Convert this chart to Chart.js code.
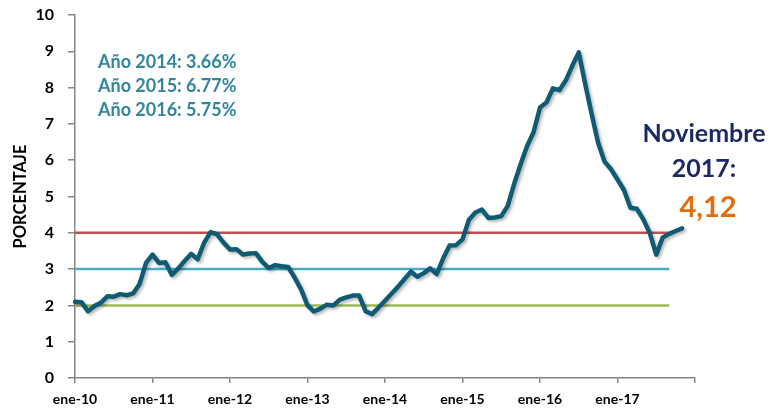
<!DOCTYPE html>
<html><head><meta charset="utf-8">
<script src="https://cdn.jsdelivr.net/npm/chart.js@4/dist/chart.umd.min.js"></script>
<style>html,body{margin:0;padding:0;background:#fff}#wrap{width:770px;height:409px;position:relative}</style>
</head><body><div id="wrap"><canvas id="c"></canvas></div>
<script>
// ---- DATA ----
const monthNames = ['ene','feb','mar','abr','may','jun','jul','ago','sep','oct','nov','dic'];
const yearLabels = ['10','11','12','13','14','15','16','17','18'];
const inflation2010 = [2.10, 2.09, 1.84, 1.98, 2.07, 2.25, 2.24, 2.31, 2.28, 2.33, 2.59, 3.17];
const inflation2011 = [3.40, 3.17, 3.19, 2.84, 3.02, 3.23, 3.42, 3.27, 3.73, 4.02, 3.96, 3.73];
const inflation2012 = [3.54, 3.55, 3.40, 3.43, 3.44, 3.20, 3.03, 3.11, 3.08, 3.06, 2.77, 2.44];
const inflation2013 = [2.00, 1.83, 1.91, 2.02, 2.00, 2.16, 2.22, 2.27, 2.27, 1.84, 1.76, 1.94];
const inflation2014 = [2.13, 2.32, 2.51, 2.72, 2.93, 2.79, 2.89, 3.02, 2.86, 3.29, 3.65, 3.66];
const inflation2015 = [3.82, 4.36, 4.56, 4.64, 4.41, 4.42, 4.46, 4.74, 5.35, 5.89, 6.39, 6.77];
const inflation2016 = [7.45, 7.59, 7.98, 7.93, 8.20, 8.60, 8.97, 8.10, 7.27, 6.48, 5.96, 5.75];
const inflation2017 = [5.47, 5.18, 4.69, 4.66, 4.37, 3.99, 3.40, 3.87, 3.97, 4.05, 4.12];
const rangoTecho = 4;   // upper band
const metaCentral = 3;  // target
const rangoPiso = 2;    // lower band
const refLineMonths = 93; // reference lines run Jan-2010 .. Sep-2017
const yTickLabels = ['0','1','2','3','4','5','6','7','8','9','10'];
const annotationLines = ['Año 2014: 3.66%', 'Año 2015: 6.77%', 'Año 2016: 5.75%'];
const lastLabel1 = 'Noviembre';
const lastLabel2 = '2017:';
const lastValue = '4,12';

// ---- BUILD ----
const labels = [];
yearLabels.forEach((y, yi) => {
  monthNames.forEach((m, mi) => {
    if (yi < yearLabels.length - 1 || mi === 0) labels.push(m + '-' + y);
  });
});
const inflation = [].concat(inflation2010, inflation2011, inflation2012, inflation2013,
  inflation2014, inflation2015, inflation2016, inflation2017);
const techo = labels.map((_, i) => i < refLineMonths ? rangoTecho : null);
const meta = labels.map((_, i) => i < refLineMonths ? metaCentral : null);
const piso = labels.map((_, i) => i < refLineMonths ? rangoPiso : null);

const FONT = 'Lato, "Open Sans", sans-serif';
const AXIS = '#868686';

const shadowPlugin = {
  id: 'shadow',
  beforeDatasetDraw(chart, args) {
    if (args.index === 0) {
      const ctx = chart.ctx;
      ctx.save();
      ctx.shadowColor = 'rgba(0,0,0,0.28)';
      ctx.shadowBlur = 3;
      ctx.shadowOffsetX = 2;
      ctx.shadowOffsetY = 2;
    }
  },
  afterDatasetDraw(chart, args) {
    if (args.index === 0) chart.ctx.restore();
  }
};

const textPlugin = {
  id: 'texts',
  afterDraw(chart) {
    const ctx = chart.ctx;
    ctx.save();
    ctx.textBaseline = 'middle';
    ctx.textAlign = 'left';
    ctx.fillStyle = '#31859C';
    ctx.font = 'bold 18px ' + FONT;
    annotationLines.forEach((t, i) => ctx.fillText(t, 98, 62 + i * 24));
    ctx.textAlign = 'center';
    ctx.fillStyle = '#1B2A63';
    ctx.font = 'bold 25px ' + FONT;
    ctx.fillText(lastLabel1, 704, 134);
    ctx.fillText(lastLabel2, 704, 169);
    ctx.fillStyle = '#E46C0A';
    ctx.font = 'bold 29px ' + FONT;
    ctx.fillText(lastValue, 708, 208);
    ctx.restore();
  }
};

new Chart(document.getElementById('c'), {
  type: 'line',
  data: {
    labels: labels,
    datasets: [
      { label: 'Inflación', data: inflation, borderColor: '#0F5B74', borderWidth: 4.5,
        pointRadius: 0, tension: 0, fill: false, borderJoinStyle: 'round', borderCapStyle: 'round' },
      { label: 'Techo', data: techo, borderColor: '#C0504D', borderWidth: 2.5, pointRadius: 0, fill: false },
      { label: 'Meta', data: meta, borderColor: '#4BACC6', borderWidth: 2.5, pointRadius: 0, fill: false },
      { label: 'Piso', data: piso, borderColor: '#9BBB59', borderWidth: 2.5, pointRadius: 0, fill: false }
    ]
  },
  options: {
    responsive: true,
    maintainAspectRatio: false,
    animation: false,
    layout: { padding: { top: 15, right: 75, left: 0, bottom: 0 } },
    plugins: { legend: { display: false }, tooltip: { enabled: false } },
    scales: {
      x: {
        type: 'category',
        offset: false,
        afterFit(s) { s.height = 31; s.paddingLeft = 0; s.paddingRight = 0; },
        border: { color: AXIS, width: 1.5 },
        grid: {
          drawOnChartArea: false, drawTicks: true, tickLength: 5,
          color: c => (c.index % 12 === 0 ? AXIS : 'rgba(0,0,0,0)'),
          lineWidth: 1.5
        },
        ticks: {
          autoSkip: false, maxRotation: 0, minRotation: 0, padding: 8,
          color: '#000', font: { family: FONT, weight: 'bold', size: 14 },
          callback(v, i) {
            if (i % 12 !== 0 || i === labels.length - 1) return '';
            return this.getLabelForValue(v);
          }
        }
      },
      y: {
        min: 0, max: 10,
        afterFit(s) { s.width = 75; s.paddingTop = 0; s.paddingBottom = 0; },
        border: { color: AXIS, width: 1.5 },
        grid: { drawOnChartArea: false, drawTicks: true, tickLength: 7, color: AXIS, lineWidth: 1.5 },
        ticks: {
          stepSize: 1, padding: 14, color: '#000',
          font: { family: FONT, weight: 'bold', size: 16 },
          callback(v) { return yTickLabels[v]; }
        },
        title: {
          display: true, text: 'PORCENTAJE', color: '#000',
          font: { family: FONT, weight: 'bold', size: 16.5 },
          padding: { top: 11, bottom: 0 }
        }
      }
    }
  },
  plugins: [shadowPlugin, textPlugin]
});
</script>
</body></html>
